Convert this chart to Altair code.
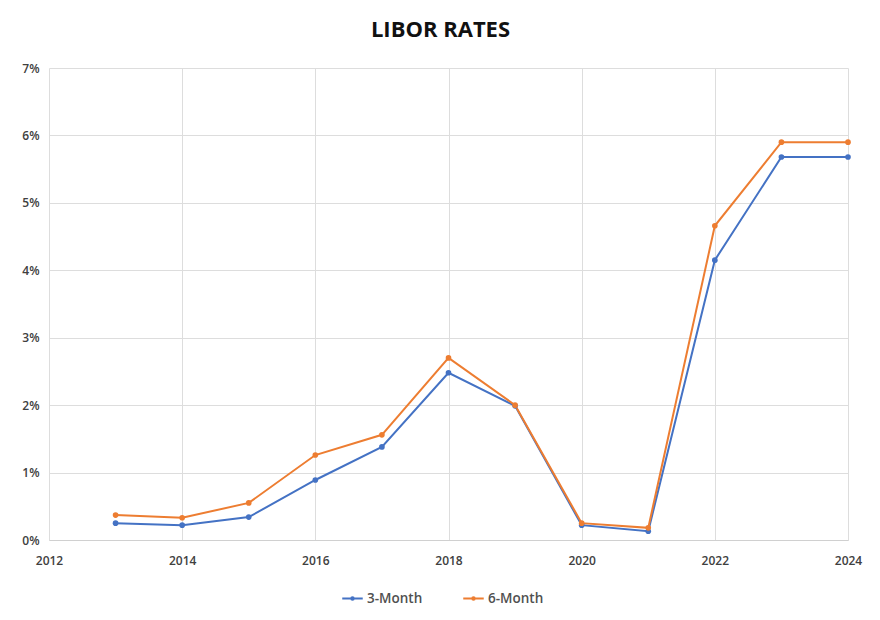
import altair as alt
import pandas as pd

years = [2013, 2014, 2015, 2016, 2017, 2018, 2019, 2020, 2021, 2022, 2023, 2024]
three_month = [0.25, 0.22, 0.34, 0.89, 1.38, 2.48, 1.99, 0.22, 0.13, 4.15, 5.68, 5.68]
six_month = [0.37, 0.33, 0.55, 1.26, 1.56, 2.70, 2.00, 0.25, 0.18, 4.66, 5.90, 5.90]
series_names = ["3-Month", "6-Month"]
series_colors = ["#4472C4", "#ED7D31"]

rows = []
for y, a, b in zip(years, three_month, six_month):
    rows.append({"Year": y, "Rate": a, "Series": series_names[0]})
    rows.append({"Year": y, "Rate": b, "Series": series_names[1]})
df = pd.DataFrame(rows)

legend_symbol = "M-1,0H1M-0.12,0A0.12,0.12,0,1,0,0.12,0A0.12,0.12,0,1,0,-0.12,0"

chart = alt.Chart(df).mark_line(
    strokeWidth=2,
    point=alt.OverlayMarkDef(filled=True, size=32),
).encode(
    x=alt.X("Year:Q",
            scale=alt.Scale(domain=[2012, 2024], nice=False, zero=False),
            axis=alt.Axis(values=[2012, 2014, 2016, 2018, 2020, 2022, 2024],
                          format="d", title=None, ticks=False,
                          labelPadding=15, labelFlush=False)),
    y=alt.Y("Rate:Q",
            scale=alt.Scale(domain=[0, 7], nice=False),
            axis=alt.Axis(values=[0, 1, 2, 3, 4, 5, 6, 7],
                          labelExpr="datum.value + '%'", title=None,
                          ticks=False, domain=False, labelPadding=10,
                          labelFlush=False)),
    color=alt.Color("Series:N",
                    scale=alt.Scale(domain=series_names, range=series_colors),
                    legend=alt.Legend(title=None, orient="none",
                                      legendX=292, legendY=519,
                                      direction="horizontal",
                                      symbolType=legend_symbol, symbolSize=420,
                                      symbolStrokeWidth=2,
                                      labelFontSize=13.5, labelColor="#505050",
                                      labelFont="Open Sans",
                                      labelFontWeight=600,
                                      labelOffset=3,
                                      columnPadding=36)),
).properties(
    width=799,
    height=472,
    title=alt.TitleParams("LIBOR RATES", fontSize=22, fontWeight="bold",
                          font="Open Sans", color="#111111", offset=20,
                          anchor="middle", dx=-8),
    autosize=alt.AutoSizeParams(type="none"),
    padding={"left": 49, "top": 68, "right": 32, "bottom": 80},
).configure(
    background="white"
).configure_view(
    stroke=None
).configure_axis(
    gridColor="#dddddd",
    domainColor="#d0d0d0",
    labelFont="Open Sans",
    labelFontSize=12,
    labelFontWeight=600,
    labelColor="#404040",
)

chart.save("out.html", embed_options={"renderer": "svg", "actions": False})
